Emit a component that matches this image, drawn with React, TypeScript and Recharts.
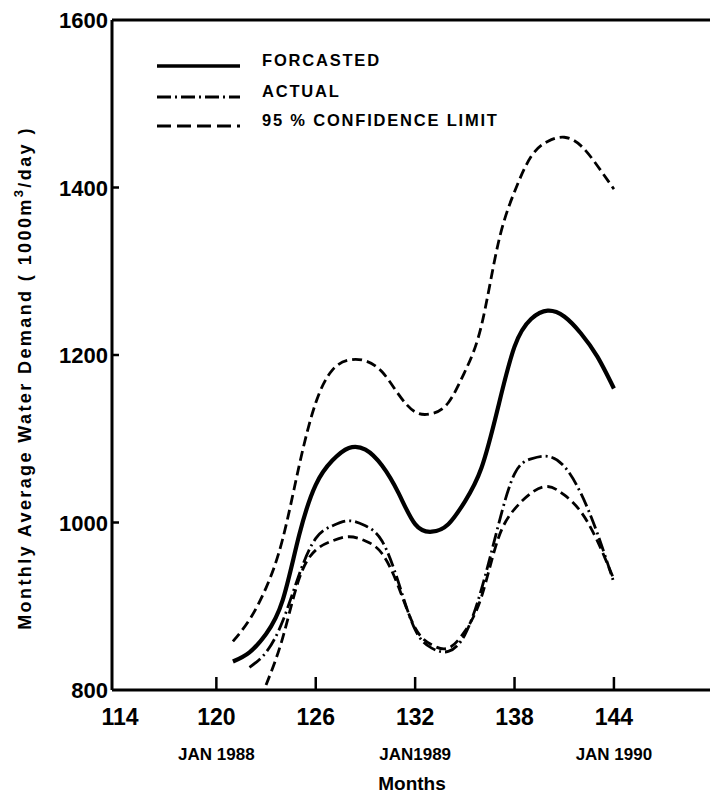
import React from 'react';
import { LineChart, Line, XAxis, YAxis, ReferenceLine, Legend, Label } from 'recharts';

// ---- data ----
const months = [121, 122, 123, 124, 125, 126, 127, 128, 129, 130, 131, 132, 133, 134, 135, 136, 137, 138, 139, 140, 141, 142, 143, 144];
const forecasted = [834, 845, 867, 907, 985, 1045, 1074, 1089, 1087, 1068, 1035, 998, 989, 998, 1025, 1065, 1137, 1210, 1243, 1253, 1246, 1226, 1198, 1160];
const actual = [null, 827, 845, 882, 938, 981, 996, 1002, 996, 978, 928, 872, 850, 846, 866, 920, 995, 1058, 1076, 1079, 1067, 1035, 987, 928];
const upperLimit = [858, 884, 922, 980, 1068, 1143, 1182, 1194, 1193, 1180, 1153, 1132, 1130, 1143, 1180, 1235, 1332, 1395, 1437, 1455, 1460, 1450, 1426, 1398];
const lowerLimit = [null, null, 806, 862, 933, 967, 978, 983, 978, 963, 923, 874, 854, 850, 870, 911, 980, 1016, 1035, 1043, 1033, 1013, 978, 932];

const xTicks = [114, 120, 126, 132, 138, 144];
const yTicks = [800, 1000, 1200, 1400, 1600];
const janLabels: Record<number, string> = { 120: 'JAN 1988', 132: 'JAN1989', 144: 'JAN 1990' };
const legendLabels = ['FORCASTED', 'ACTUAL', '95 % CONFIDENCE LIMIT'];
const yTitleMain = 'Monthly  Average  Water  Demand  ( 1000m';
const yTitleSup = '3';
const yTitleEnd = '/day )';
const xTitle = 'Months';

const data = months.map((m, i) => ({
  month: m,
  forecasted: forecasted[i],
  actual: actual[i],
  upper: upperLimit[i],
  lower: lowerLimit[i],
}));

const FONT = '"Liberation Sans", Arial, sans-serif';
const NARROW = '"Liberation Sans Narrow", "Liberation Sans", Arial, sans-serif';

const DASH = '10 5';
const DASHDOT = '14 4 2 4';

const XTick = (props: any) => {
  const { x, y, payload } = props;
  const v = payload.value as number;
  return (
    <g>
      {v !== 114 && <line x1={x} y1={y} x2={x} y2={y - 13} stroke="#000" strokeWidth={2.5} />}
      <text x={x + (v === 114 ? 3 : 0)} y={y + 35} textAnchor="middle" fontFamily={NARROW} fontWeight="bold" fontSize={23} fill="#000">
        {v}
      </text>
      {janLabels[v] && (
        <text x={x} y={y + 70} textAnchor="middle" fontFamily={FONT} fontWeight="bold" fontSize={17} fill="#000">
          {janLabels[v]}
        </text>
      )}
    </g>
  );
};

const YTick = (props: any) => {
  const { x, y, payload } = props;
  const v = payload.value as number;
  return (
    <g>
      {v !== 800 && v !== 1600 && <line x1={x} y1={y} x2={x + 7} y2={y} stroke="#000" strokeWidth={2.5} />}
      <text x={x - 4} y={y + 8} textAnchor="end" fontFamily={FONT} fontWeight="bold" fontSize={22} fill="#000">
        {v}
      </text>
    </g>
  );
};

const renderLegend = () => {
  const rows = [
    { dash: undefined, w: 3.5 },
    { dash: DASHDOT, w: 2.8 },
    { dash: '14 6', w: 2.8 },
  ];
  const baselines = [66, 97, 126];
  return (
    <svg width={560} height={140} style={{ position: 'absolute', left: 0, top: 0 }}>
      {rows.map((r, i) => (
        <g key={i}>
          <line x1={157} y1={baselines[i]} x2={240} y2={baselines[i]} stroke="#000" strokeWidth={r.w} strokeDasharray={r.dash} />
          <text x={262} y={baselines[i]} fontFamily={FONT} fontWeight="bold" fontSize={16.5} letterSpacing={1.8} fill="#000">
            {legendLabels[i]}
          </text>
        </g>
      ))}
    </svg>
  );
};

const YTitle = (props: any) => {
  const vb = props.viewBox || { y: 20, height: 670 };
  const cx = 31;
  const cy = vb.y + vb.height / 2 + 23;
  return (
    <text
      x={cx}
      y={cy}
      transform={`rotate(-90, ${cx}, ${cy})`}
      textAnchor="middle"
      fontFamily={FONT}
      fontWeight="bold"
      fontSize={18}
      letterSpacing={2.4}
      fill="#000"
    >
      {yTitleMain}
      <tspan dy={-8} fontSize={13}>{yTitleSup}</tspan>
      <tspan dy={8}>{yTitleEnd}</tspan>
    </text>
  );
};

const XTitle = (props: any) => {
  const vb = props.viewBox || { x: 112, y: 690, width: 598 };
  return (
    <text x={412} y={vb.y + 100} textAnchor="middle" fontFamily={FONT} fontWeight="bold" fontSize={19} fill="#000">
      {xTitle}
    </text>
  );
};

export default function App() {
  return (
    <div style={{ position: 'absolute', left: 0, top: 0, width: 710, height: 793, background: '#fff' }}>
      <LineChart width={710} height={793} data={data} margin={{ top: 20, right: 0, left: 0, bottom: 0 }}>
        <XAxis
          dataKey="month"
          type="number"
          domain={[113.7, 149.8]}
          allowDataOverflow
          ticks={xTicks}
          interval={0}
          height={103}
          tickSize={0}
          tickMargin={0}
          tickLine={false}
          axisLine={{ stroke: '#000', strokeWidth: 3 }}
          tick={<XTick />}
        >
          <Label content={<XTitle />} />
        </XAxis>
        <YAxis
          type="number"
          domain={[800, 1600]}
          allowDataOverflow
          ticks={yTicks}
          interval={0}
          width={112}
          tickSize={0}
          tickMargin={0}
          tickLine={false}
          axisLine={{ stroke: '#000', strokeWidth: 3 }}
          tick={<YTick />}
        >
          <Label content={<YTitle />} />
        </YAxis>
        <ReferenceLine y={1600} stroke="#000" strokeWidth={3} />
        <Legend
          layout="vertical"
          align="center"
          verticalAlign="middle"
          content={renderLegend}
          wrapperStyle={{ left: 0, top: 0, width: 560, height: 140 }}
        />
        <Line type="natural" dataKey="upper" stroke="#000" strokeWidth={2.8} strokeDasharray={DASH} dot={false} isAnimationActive={false} />
        <Line type="natural" dataKey="forecasted" stroke="#000" strokeWidth={4.2} dot={false} isAnimationActive={false} />
        <Line type="natural" dataKey="actual" stroke="#000" strokeWidth={2.8} strokeDasharray={DASHDOT} dot={false} isAnimationActive={false} />
        <Line type="natural" dataKey="lower" stroke="#000" strokeWidth={2.8} strokeDasharray={DASH} dot={false} isAnimationActive={false} />
      </LineChart>
    </div>
  );
}
